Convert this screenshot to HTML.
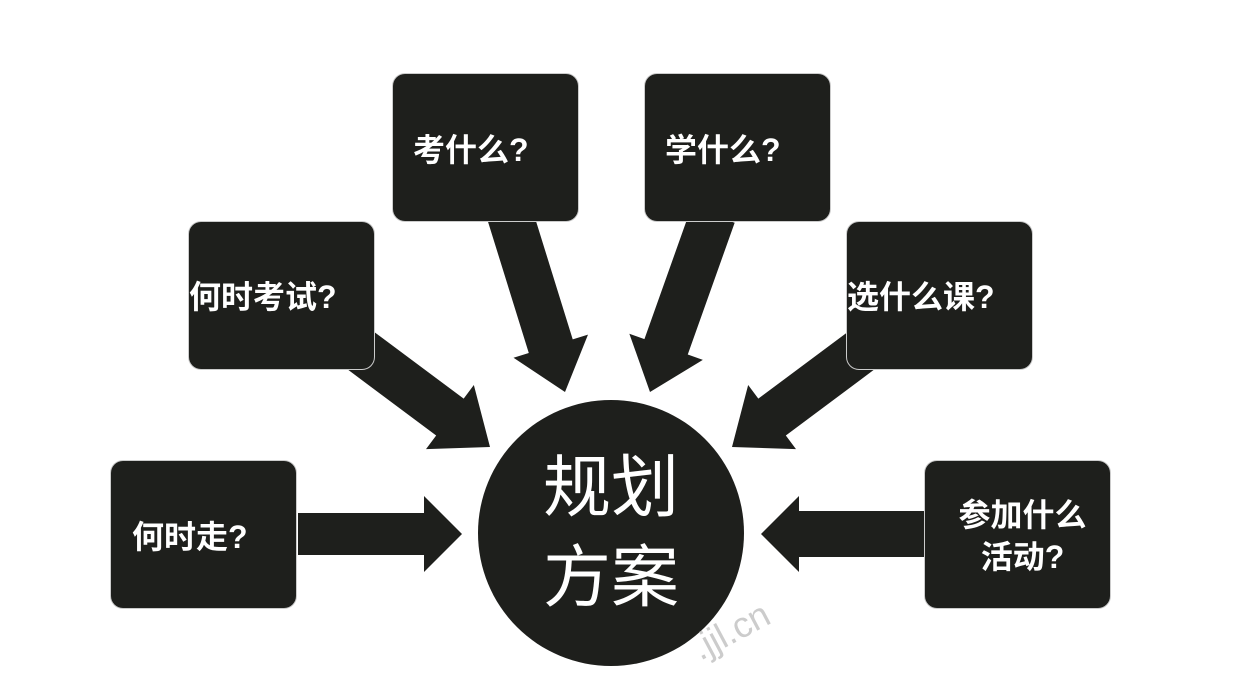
<!DOCTYPE html>
<html><head><meta charset="utf-8"><style>
body{margin:0;width:1236px;height:674px;background:#fff;overflow:hidden;position:relative;font-family:"Liberation Sans","Noto Sans CJK SC",sans-serif}
.b{position:absolute;width:185px;height:147px;background:#1e1f1c;border-radius:12px;color:#fff;font-size:32px;font-weight:bold;display:flex;align-items:center;justify-content:center;text-align:center;line-height:42px;box-shadow:0 0 0 1px #ccc}
svg{position:absolute;left:0;top:0}
.c{position:absolute;left:478px;top:400px;width:266px;height:266px;border-radius:50%;background:#1e1f1c;color:#fff;font-size:68px;line-height:90px;display:flex;align-items:center;justify-content:center;text-align:center}
.w{position:absolute;left:690px;top:610px;font-size:36px;color:#ccc;transform:rotate(-28deg)}
</style></head><body>
<svg id="s" width="1236" height="674"></svg>
<div class="b" style="left:393px;top:74px;justify-content:flex-start;padding-left:20px;width:165px;padding-top:4px;height:143px">考什么?</div>
<div class="b" style="left:645px;top:74px;justify-content:flex-start;padding-left:20px;width:165px;padding-top:4px;height:143px">学什么?</div>
<div class="b" style="left:189px;top:222px;justify-content:flex-start;align-items:flex-start;padding-top:54px;height:93px">何时考试?</div>
<div class="b" style="left:847px;top:222px;justify-content:flex-start;align-items:flex-start;padding-top:54px;height:93px">选什么课?</div>
<div class="b" style="left:111px;top:461px;justify-content:flex-start;padding-left:21px;width:164px;padding-top:4px;height:143px">何时走?</div>
<div class="b" style="left:925px;top:461px;padding-left:10px;width:175px;padding-top:2px;height:145px">参加什么<br>活动?</div>
<div class="c">规划<br>方案</div>
<div class="w">.jjl.cn</div>
<script>
var s=document.getElementById('s'),h='';
function a(x0,y0,x1,y1,sw,hw,hl){var dx=x1-x0,dy=y1-y0,L=Math.hypot(dx,dy),ux=dx/L,uy=dy/L,px=-uy,py=ux;
var bx=x1-ux*hl,by=y1-uy*hl;
var p=[[x0+px*sw/2,y0+py*sw/2],[bx+px*sw/2,by+py*sw/2],[bx+px*hw/2,by+py*hw/2],[x1,y1],[bx-px*hw/2,by-py*hw/2],[bx-px*sw/2,by-py*sw/2],[x0-px*sw/2,y0-py*sw/2]];
h+='<polygon fill="#1e1f1c" points="'+p.map(function(q){return q.join(',')}).join(' ')+'"/>';}
a(510,215,565,392,46,78,48);
a(713,215,650,392,46,78,48);
a(360,350,490,447,46,80,50);
a(862,350,732,447,46,80,50);
a(298,534,462,534,42,76,38);
a(924,534,761,534,46,76,38);
s.innerHTML=h;
</script>
</body></html>
